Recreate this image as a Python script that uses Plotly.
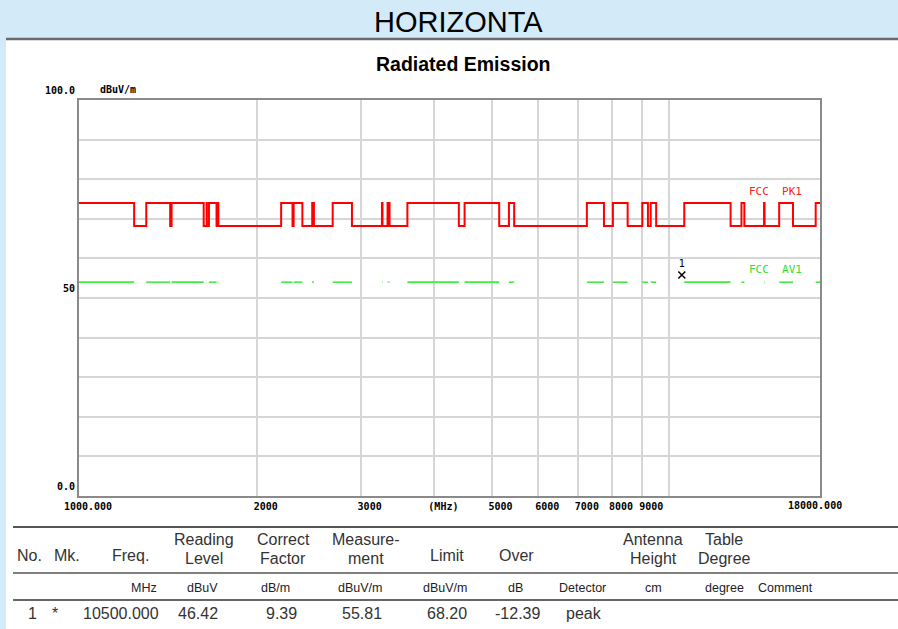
import math

import plotly.graph_objects as go

# FCC restricted bands (MHz) inside the 1-18 GHz sweep: peak limit is raised there
band_lo = [960, 1300, 1435, 1645.5, 1660, 1718.8, 2200, 2310, 2483.5, 2690,
           3260, 3332, 3345.8, 3600, 4500, 5350, 7250, 8025, 9000, 9300,
           10600, 13250, 14470, 15350, 17700]
band_hi = [1240, 1427, 1626.5, 1646.5, 1710, 1722.2, 2300, 2390, 2500, 2900,
           3267, 3339, 3358, 4400, 5150, 5460, 7750, 8500, 9200, 9500,
           12700, 13400, 14500, 16200, 21400]
f_start, f_stop = 1000, 18000
pk_high, pk_low = 74.0, 68.2
av_level = 54.0

marker_freq = [10500.0]
marker_level = [55.81]

x_tickvals = [1000, 2000, 3000, 4000, 5000, 6000, 7000, 8000, 9000, 10000, 18000]
x_ticktext = ["1000.000", "2000", "3000", "(MHz)", "5000", "6000", "7000",
              "8000", "9000", "", ""]
y_tickvals = list(range(0, 101, 10))
y_ticktext = ["0.0", "", "", "", "", "50", "", "", "", "", "100.0"]

header_top = ["", "", "", "Reading", "Correct", "Measure-", "", "", "", "Antenna", "Table", ""]
header_bot = ["No.", "Mk.", "Freq.", "Level", "Factor", "ment", "Limit", "Over", "", "Height", "Degree", ""]
units = ["", "", "MHz", "dBuV", "dB/m", "dBuV/m", "dBuV/m", "dB", "Detector", "cm", "degree", "Comment"]
row1 = ["1", "*", "10500.000", "46.42", "9.39", "55.81", "68.20", "-12.39", "peak", "", "", ""]
col_x = [29, 67, 130, 204, 283, 366, 447, 516, 583, 653, 724, 785]
unit_x = [29, 67, 144, 202, 275, 360, 445, 515, 582, 653, 724, 785]
row_x = [32, 55, 121, 198, 281, 362, 447, 517, 584, 653, 724, 785]

W, H = 898, 629
L, R, T, B = 79, 820, 100, 496


def px(x):
    return (x - L) / (R - L)


def py(y):
    return (B - y) / (B - T)


# build limit lines from the band edges
pk_x, pk_y = [f_start], []
av_x, av_y = [], []
pk_y.append(pk_high if band_lo[0] <= f_start < band_hi[0] else pk_low)
for lo, hi in zip(band_lo, band_hi):
    lo_c, hi_c = max(lo, f_start), min(hi, f_stop)
    if lo_c >= hi_c:
        continue
    if lo > f_start:
        pk_x += [lo, lo]
        pk_y += [pk_low, pk_high]
    if hi < f_stop:
        pk_x += [hi, hi]
        pk_y += [pk_high, pk_low]
    av_x += [lo_c, hi_c, None]
    av_y += [av_level, av_level, None]
pk_x.append(f_stop)
pk_y.append(pk_y[-1])

fig = go.Figure()
fig.add_scatter(x=av_x, y=av_y, mode="lines", line=dict(color="#3fee3f", width=1.6),
                connectgaps=False, showlegend=False, hoverinfo="skip")
fig.add_scatter(x=pk_x, y=pk_y, mode="lines", line=dict(color="#ff0000", width=2),
                showlegend=False, hoverinfo="skip")
fig.add_scatter(x=marker_freq, y=marker_level, mode="markers+text",
                marker=dict(symbol="x-thin", size=7, line=dict(color="black", width=1.5)),
                text=["1"], textposition="top center",
                textfont=dict(family="DejaVu Sans Mono", size=10, color="black"),
                showlegend=False)

axis_font = dict(family="DejaVu Sans Mono", size=10, color="black", weight="bold")
fig.update_xaxes(type="log", range=[3, math.log10(f_stop)], tickvals=x_tickvals, ticktext=x_ticktext,
                 tickfont=axis_font, showgrid=True, gridcolor="#d6d6d6", gridwidth=1.5,
                 showline=True, linecolor="#8a8a8a", linewidth=2, mirror=True,
                 ticks="", ticklabelshift=9, zeroline=False)
fig.update_yaxes(range=[0, 100], tickvals=y_tickvals, ticktext=y_ticktext,
                 tickfont=axis_font, showgrid=True, gridcolor="#d6d6d6", gridwidth=1.5,
                 showline=True, linecolor="#8a8a8a", linewidth=2, mirror=True,
                 ticks="", ticklabelshift=-10, zeroline=False)

shapes = [
    dict(type="rect", xref="paper", yref="paper", x0=px(6), x1=px(W + 2), y0=py(39), y1=py(H + 2),
         fillcolor="white", line=dict(width=0), layer="below"),
    dict(type="line", xref="paper", yref="paper", x0=px(6), x1=px(W + 2), y0=py(39), y1=py(39),
         line=dict(color="#6a6a6a", width=2.5)),
    dict(type="line", xref="paper", yref="paper", x0=px(13), x1=px(W + 2), y0=py(527), y1=py(527),
         line=dict(color="#555555", width=2)),
    dict(type="line", xref="paper", yref="paper", x0=px(13), x1=px(W + 2), y0=py(573), y1=py(573),
         line=dict(color="#555555", width=1.5)),
    dict(type="line", xref="paper", yref="paper", x0=px(13), x1=px(W + 2), y0=py(600), y1=py(600),
         line=dict(color="#333333", width=1.5)),
]

ann = []


def label(x, y, text, size, color="black", family="Liberation Sans", weight="normal", anchor="center"):
    ann.append(dict(x=px(x), y=py(y), xref="paper", yref="paper", text=text, showarrow=False,
                    xanchor=anchor, yanchor="middle",
                    font=dict(family=family, size=size, color=color, weight=weight)))


label(459, 22, "HORIZONTA", 29)
label(463, 64, "Radiated Emission", 19.5, weight="bold")
label(98, 89, "dBuV/m", 10, family="DejaVu Sans Mono", weight="bold", anchor="left")
label(804, 191, "FCC  PK1", 11, color="#ff2020", family="DejaVu Sans Mono", anchor="right")
label(804, 269, "FCC  AV1", 11, color="#30e030", family="DejaVu Sans Mono", anchor="right")
# stop-frequency label sits left of the axis end in the reference
ann.append(dict(x=math.log10(f_stop), y=0, xref="x", yref="y", text="18000.000",
                showarrow=False, xanchor="center", yanchor="top", xshift=-5, yshift=-2,
                font=axis_font))

for i in range(len(col_x)):
    if header_top[i]:
        label(col_x[i], 539, header_top[i], 16, color="#333333")
        label(col_x[i], 558, header_bot[i], 16, color="#333333")
    elif header_bot[i]:
        label(col_x[i], 555, header_bot[i], 16, color="#333333")
    if units[i]:
        label(unit_x[i], 588, units[i], 12.5, color="#222222")
    if row1[i]:
        label(row_x[i], 613, row1[i], 16, color="#333333")

fig.update_layout(
    width=W, height=H,
    margin=dict(l=L, r=W - R, t=T, b=H - B, pad=0),
    paper_bgcolor="#d3ebf9", plot_bgcolor="white",
    shapes=shapes, annotations=ann,
    font=dict(family="Liberation Sans"),
)

fig.write_html("out.html", config={"displayModeBar": False},
               post_script="document.body.style.margin='0';")
